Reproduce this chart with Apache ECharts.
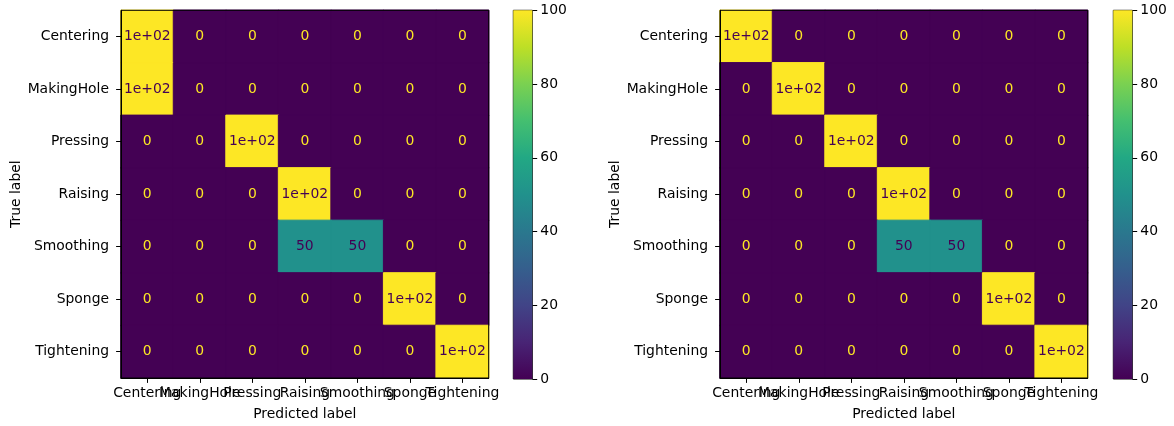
<!DOCTYPE html>
<html><head><meta charset="utf-8">
<script src="https://cdn.jsdelivr.net/npm/echarts@6/dist/echarts.min.js"></script>
<style>html,body{margin:0;padding:0;background:#fff}#c{width:1174px;height:426px}</style>
</head><body><div id="c"></div>
<script>
const categories = ['Centering','MakingHole','Pressing','Raising','Smoothing','Sponge','Tightening'];
const matrixLeft = [
  [100,0,0,0,0,0,0],
  [100,0,0,0,0,0,0],
  [0,0,100,0,0,0,0],
  [0,0,0,100,0,0,0],
  [0,0,0,50,50,0,0],
  [0,0,0,0,0,100,0],
  [0,0,0,0,0,0,100]
];
const matrixRight = [
  [100,0,0,0,0,0,0],
  [0,100,0,0,0,0,0],
  [0,0,100,0,0,0,0],
  [0,0,0,100,0,0,0],
  [0,0,0,50,50,0,0],
  [0,0,0,0,0,100,0],
  [0,0,0,0,0,0,100]
];
const colorbarTicks = [0,20,40,60,80,100];
const viridis = ['#440154','#482475','#414487','#355f8d','#2a788e','#21918c','#22a884','#44bf70','#7ad151','#bddf26','#fde725'];
const vMin = 0, vMax = 100;

function fmt2g(v){
  if (v === 0) return '0';
  const e = Math.floor(Math.log10(Math.abs(v)));
  if (e >= 2 || e < -4) {
    const m = v / Math.pow(10, e);
    const ms = parseFloat(m.toPrecision(2)).toString();
    return ms + 'e' + (e >= 0 ? '+' : '-') + String(Math.abs(e)).padStart(2,'0');
  }
  return parseFloat(v.toPrecision(2)).toString();
}
function toData(m){
  const out = [];
  let mx = -Infinity, mn = Infinity;
  m.forEach(r => r.forEach(v => { mx = Math.max(mx, v); mn = Math.min(mn, v); }));
  const thresh = (mx + mn) / 2;
  m.forEach((row, i) => row.forEach((v, j) => {
    const c = echarts.color.lerp((v - vMin) / (vMax - vMin), viridis);
    out.push({value:[j, i, v],
      itemStyle:{borderColor:c, borderWidth:1},
      label:{color: v < thresh ? viridis[10] : viridis[0]}});
  }));
  return out;
}
const font = 'DejaVu Sans';
const fs = 13.9;
const T = 10.3, H = 368.7, W = 367.7;
function grids(){
  return [
    {left:121, top:T, width:W, height:H, show:true, borderColor:'#000', borderWidth:1, backgroundColor:'transparent', z:3},
    {left:720, top:T, width:W, height:H, show:true, borderColor:'#000', borderWidth:1, backgroundColor:'transparent', z:3},
    {left:513.3, top:T, width:19, height:H, show:true, borderColor:'#000', borderWidth:1},
    {left:1113.3, top:T, width:19, height:H, show:true, borderColor:'#000', borderWidth:1}
  ];
}
function catX(gi){
  return {type:'category', gridIndex:gi, data:categories, position:'bottom',
    name:'Predicted label', nameLocation:'middle', nameGap:29,
    nameTextStyle:{fontFamily:font, fontSize:fs, color:'#000'},
    axisLine:{show:true, lineStyle:{color:'#000', width:1}},
    axisTick:{show:true, alignWithLabel:true, length:4.9, lineStyle:{color:'#000'}},
    axisLabel:{interval:0, hideOverlap:false, margin:8, fontFamily:font, fontSize:fs, color:'#000'},
    splitLine:{show:false}, splitArea:{show:false}, z:10};
}
function catY(gi){
  return {type:'category', gridIndex:gi, data:categories, inverse:true, position:'left',
    name:'True label', nameLocation:'middle', nameGap:97, nameRotate:90,
    nameTextStyle:{fontFamily:font, fontSize:fs, color:'#000'},
    axisLine:{show:true, lineStyle:{color:'#000', width:1}},
    axisTick:{show:true, alignWithLabel:true, length:4.9, lineStyle:{color:'#000'}},
    axisLabel:{interval:0, margin:12, fontFamily:font, fontSize:fs, color:'#000', verticalAlign:'middle'},
    splitLine:{show:false}, splitArea:{show:false}, z:10};
}
function cbX(gi){ return {type:'category', gridIndex:gi, data:['cb'], show:false}; }
function cbY(gi){
  return {type:'value', gridIndex:gi, min:vMin, max:vMax, interval:20, position:'right',
    axisLine:{show:false}, splitLine:{show:false},
    axisTick:{show:true, length:4.9, inside:false, lineStyle:{color:'#000'}},
    axisLabel:{show:true, margin:8, fontFamily:font, fontSize:fs, color:'#000',
      formatter: v => colorbarTicks.includes(v) ? String(v) : ''}};
}
const grad = {type:'linear', x:0, y:1, x2:0, y2:0,
  colorStops: viridis.map((c,i)=>({offset:i/(viridis.length-1), color:c}))};
function heat(xi, yi, m){
  return {type:'heatmap', xAxisIndex:xi, yAxisIndex:yi, data:toData(m),
    label:{show:true, fontFamily:font, fontSize:fs, formatter: p => fmt2g(p.value[2])},
    emphasis:{disabled:true}, progressive:0};
}
function cbBar(xi, yi){
  return {type:'bar', xAxisIndex:xi, yAxisIndex:yi, data:[colorbarTicks[colorbarTicks.length-1]],
    barWidth:'100%', itemStyle:{color:grad}, silent:true};
}
const chart = echarts.init(document.getElementById('c'), null, {renderer:'canvas'});
chart.setOption({
  animation:false,
  backgroundColor:'#fff',
  grid: grids(),
  xAxis:[catX(0), catX(1), cbX(2), cbX(3)],
  yAxis:[catY(0), catY(1), cbY(2), cbY(3)],
  visualMap:{type:'continuous', min:vMin, max:vMax, show:false, seriesIndex:[0,1], inRange:{color:viridis}},
  series:[heat(0,0,matrixLeft), heat(1,1,matrixRight), cbBar(2,2), cbBar(3,3)]
});
</script></body></html>
